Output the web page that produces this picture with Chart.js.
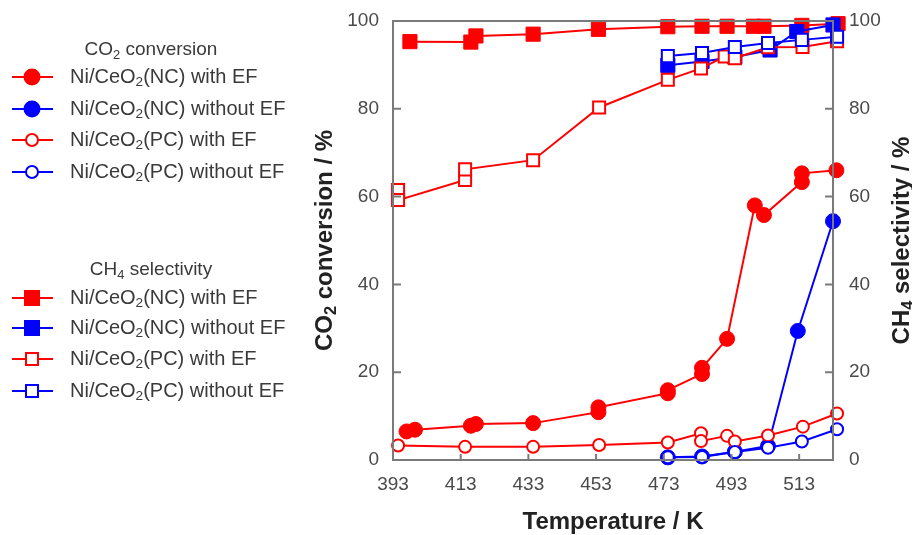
<!DOCTYPE html>
<html><head><meta charset="utf-8">
<script src="https://cdn.jsdelivr.net/npm/chart.js@4.4.1/dist/chart.umd.min.js"></script>
<style>html,body{margin:0;padding:0;background:#fff}#wrap{width:912px;height:535px;position:relative}</style>
</head><body><div id="wrap"><canvas id="c" width="912" height="535"></canvas></div>
<script>
// ---- data ----
const xTickLabels = [393, 413, 433, 453, 473, 493, 513];
const yTickLabels = [0, 20, 40, 60, 80, 100];

// CO2 conversion (circles, left axis)
const convNCEF_T   = [397, 399.5, 416, 417.5, 434.4, 453.7, 453.7, 474.2, 474.2, 484.3, 484.3, 491.7, 499.9, 502.6, 513.8, 513.8, 524, 524];
const convNCEF     = [6.5, 6.9, 7.8, 8.2, 8.4, 10.9, 12.0, 15.2, 15.9, 19.6, 21.0, 27.6, 58.0, 55.8, 63.3, 65.3, 66.0, 65.0];
const convNCnoEF_T = [474.2, 484.3, 494, 503.8, 512.6, 523];
const convNCnoEF   = [0.6, 0.8, 1.9, 3.2, 29.4, 54.4];
const convPCEF_T   = [394.5, 414.3, 434.4, 453.9, 474.2, 484, 484, 491.7, 494, 503.8, 514.1, 524.2, 524.2];
const convPCEF     = [3.3, 3.0, 3.0, 3.4, 4.0, 6.1, 4.3, 5.5, 4.2, 5.6, 7.6, 10.6, 11.8];
const convPCnoEF_T = [474.2, 484.3, 494, 503.8, 513.8, 524.2];
const convPCnoEF   = [0.6, 0.7, 1.8, 2.8, 4.2, 7.0];

// CH4 selectivity (squares, right axis)
const selNCEF_T    = [398, 416, 417.5, 434.4, 453.7, 474.2, 484.3, 491.7, 499.5, 502.6, 513.8, 524.5];
const selNCEF      = [95.3, 95.2, 96.6, 97.0, 98.1, 98.7, 98.8, 98.8, 98.8, 98.8, 99.0, 99.4];
const selNCnoEF_T  = [474.2, 484.3, 494, 504.4, 512.3, 523];
const selNCnoEF    = [89.9, 90.8, 91.8, 93.4, 97.6, 99.1];
const selPCEF_T    = [394.5, 394.5, 414.3, 414.3, 434.4, 453.9, 474.2, 484, 491, 494, 503.8, 514, 524.2];
const selPCEF      = [61.5, 59.2, 63.8, 66.2, 68.3, 80.3, 86.6, 89.2, 91.9, 91.5, 94.0, 94.1, 95.4];
const selPCnoEF_T  = [474.2, 484.3, 494, 503.8, 513.8, 524.2];
const selPCnoEF    = [92.0, 92.7, 94.1, 95.0, 95.7, 96.4];

const seriesNames = ['Ni/CeO|2|(NC) with EF', 'Ni/CeO|2|(NC) without EF', 'Ni/CeO|2|(PC) with EF', 'Ni/CeO|2|(PC) without EF'];

const RED = '#ff0000', BLUE = '#0000ff';
const FONT = '"Liberation Sans", Arial, Helvetica, sans-serif';

function pts(T, V) { return T.map((t, i) => ({x: t, y: V[i]})); }
function ds(T, V, color, filled, shape, axis) {
  const isRect = shape === 'rect';
  return {
    data: pts(T, V), yAxisID: axis,
    borderColor: color, borderWidth: 2,
    backgroundColor: filled ? color : '#ffffff',
    pointBackgroundColor: filled ? color : '#ffffff',
    pointBorderColor: color, pointBorderWidth: filled ? 1 : 2,
    pointStyle: isRect ? 'rect' : 'circle',
    pointRadius: isRect ? (filled ? 10 : 8.5) : (filled ? 7.5 : 6),
    tension: 0, fill: false, clip: false
  };
}

const datasets = [
  ds(selPCnoEF_T, selPCnoEF, BLUE, false, 'rect', 'y2'),
  ds(convPCnoEF_T, convPCnoEF, BLUE, false, 'circle', 'y'),
  ds(selPCEF_T, selPCEF, RED, false, 'rect', 'y2'),
  ds(convPCEF_T, convPCEF, RED, false, 'circle', 'y'),
  ds(selNCnoEF_T, selNCnoEF, BLUE, true, 'rect', 'y2'),
  ds(convNCnoEF_T, convNCnoEF, BLUE, true, 'circle', 'y'),
  ds(selNCEF_T, selNCEF, RED, true, 'rect', 'y2'),
  ds(convNCEF_T, convNCEF, RED, true, 'circle', 'y'),
];

// rich text with subscripts: "a|2|b" -> a, sub 2, b
function richParts(s) { return s.split('|').map((t, i) => [t, i % 2 === 1]); }
function richWidth(ctx, parts, size, weight) {
  let w = 0;
  for (const [t, sub] of parts) { ctx.font = `${weight} ${sub ? size * 0.68 : size}px ${FONT}`; w += ctx.measureText(t).width; }
  return w;
}
function drawRich(ctx, s, x, y, size, weight, color, align) {
  const parts = richParts(s);
  const w = richWidth(ctx, parts, size, weight);
  let cx = align === 'center' ? x - w / 2 : x;
  ctx.fillStyle = color; ctx.textBaseline = 'middle'; ctx.textAlign = 'left';
  for (const [t, sub] of parts) {
    ctx.font = `${weight} ${sub ? size * 0.68 : size}px ${FONT}`;
    ctx.fillText(t, cx, sub ? y + size * 0.28 : y);
    cx += ctx.measureText(t).width;
  }
}
function drawMarker(ctx, x, y, color, filled, shape) {
  ctx.save();
  ctx.strokeStyle = color; ctx.fillStyle = filled ? color : '#fff'; ctx.lineWidth = 2;
  ctx.beginPath();
  if (shape === 'rect') { const h = filled ? 7 : 6; ctx.rect(x - h, y - h, 2 * h, 2 * h); }
  else { ctx.arc(x, y, filled ? 7.5 : 6, 0, Math.PI * 2); }
  ctx.fill(); ctx.stroke(); ctx.restore();
}

const decor = {
  id: 'decor',
  afterDraw(chart) {
    const ctx = chart.ctx, a = chart.chartArea;
    const xs = chart.scales.x, ys = chart.scales.y;
    ctx.save();
    // frame
    ctx.strokeStyle = '#7a7a7a'; ctx.lineWidth = 2;
    ctx.strokeRect(a.left, a.top, a.right - a.left, a.bottom - a.top);
    // inward ticks
    ctx.beginPath();
    yTickLabels.forEach(v => {
      if (v === 0 || v === 100) return;
      const py = ys.getPixelForValue(v);
      ctx.moveTo(a.left, py); ctx.lineTo(a.left + 8, py);
      ctx.moveTo(a.right, py); ctx.lineTo(a.right - 8, py);
    });
    xTickLabels.forEach(v => {
      if (v === 393) return;
      const px = xs.getPixelForValue(v);
      ctx.moveTo(px, a.bottom); ctx.lineTo(px, a.bottom - 6);
    });
    ctx.stroke();
    // axis titles
    const midY = (a.top + a.bottom) / 2;
    drawRich(ctx, 'Temperature / K', (a.left + a.right) / 2, 522, 24, 'bold', '#222', 'center');
    ctx.save(); ctx.translate(325, midY); ctx.rotate(-Math.PI / 2);
    drawRich(ctx, 'CO|2| conversion / %', 0, 0, 24, 'bold', '#222', 'center'); ctx.restore();
    ctx.save(); ctx.translate(902, midY); ctx.rotate(-Math.PI / 2);
    drawRich(ctx, 'CH|4| selectivity / %', 0, 0, 24, 'bold', '#222', 'center'); ctx.restore();
    // legend
    const groups = [
      {title: 'CO|2| conversion', ty: 50, rows: [77, 109, 140, 172], shape: 'circle'},
      {title: 'CH|4| selectivity', ty: 270, rows: [298, 328, 359, 391], shape: 'rect'}
    ];
    const styles = [[RED, true], [BLUE, true], [RED, false], [BLUE, false]];
    groups.forEach(g => {
      drawRich(ctx, g.title, 151, g.ty, 19, 'normal', '#3a3a3a', 'center');
      g.rows.forEach((ry, i) => {
        const [col, filled] = styles[i];
        ctx.strokeStyle = col; ctx.lineWidth = 2;
        ctx.beginPath(); ctx.moveTo(12, ry); ctx.lineTo(53, ry); ctx.stroke();
        drawMarker(ctx, 32, ry, col, filled, g.shape);
        drawRich(ctx, seriesNames[i], 70, ry, 20, 'normal', '#3a3a3a', 'left');
      });
    });
    ctx.restore();
  }
};

const tickFont = {size: 19, family: FONT};
const fitY = w => s => { s.width = w; s.paddingTop = 0; s.paddingBottom = 0; };
new Chart(document.getElementById('c'), {
  type: 'line',
  data: {datasets},
  options: {
    responsive: false, animation: false, maintainAspectRatio: false,
    layout: {padding: {left: 293, right: 0, top: 21, bottom: 0}, autoPadding: false},
    plugins: {legend: {display: false}, tooltip: {enabled: false}},
    scales: {
      x: {
        type: 'linear', min: 393, max: 523,
        afterBuildTicks: s => { s.ticks = xTickLabels.map(v => ({value: v})); },
        afterFit: s => { s.height = 75; s.paddingLeft = 0; s.paddingRight = 0; },
        ticks: {font: tickFont, color: '#4a4a4a', padding: 13, maxRotation: 0, autoSkip: false, callback: v => String(v)},
        grid: {display: false, drawTicks: false}, border: {display: false}
      },
      y: {
        position: 'left', min: 0, max: 100,
        afterBuildTicks: s => { s.ticks = yTickLabels.map(v => ({value: v})); },
        afterFit: fitY(100),
        ticks: {font: tickFont, color: '#4a4a4a', padding: 14, callback: v => String(v)},
        grid: {display: false, drawTicks: false}, border: {display: false}
      },
      y2: {
        position: 'right', min: 0, max: 100,
        afterBuildTicks: s => { s.ticks = yTickLabels.map(v => ({value: v})); },
        afterFit: fitY(79),
        ticks: {font: tickFont, color: '#4a4a4a', padding: 16, callback: v => String(v)},
        grid: {display: false, drawTicks: false}, border: {display: false}
      }
    }
  },
  plugins: [decor]
});
</script></body></html>
